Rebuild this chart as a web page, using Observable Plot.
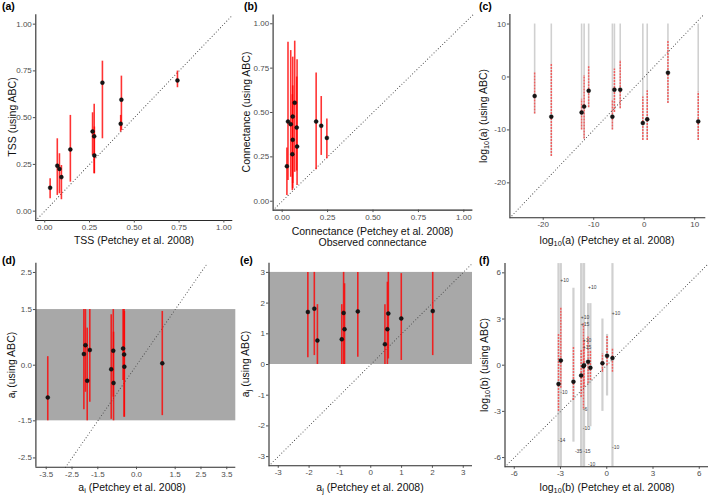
<!DOCTYPE html>
<html><head><meta charset="utf-8">
<script src="https://cdn.jsdelivr.net/npm/d3@7"></script>
<script src="https://cdn.jsdelivr.net/npm/@observablehq/plot@0.6"></script>
<style>
body{margin:0;background:#fff;}
#fig{position:relative;width:709px;height:496px;font-family:"Liberation Sans",Arial,sans-serif;overflow:hidden;background:#fff;}
.panel{position:absolute;}
.panel svg{overflow:visible;}
.lab{position:absolute;font-weight:bold;font-size:10.5px;color:#000;}
.xt{position:absolute;font-size:10.5px;color:#111;transform:translate(-50%,-50%);white-space:nowrap;text-align:center;line-height:1.05;}
.yt{position:absolute;font-size:10.5px;color:#111;transform:translate(-50%,-50%) rotate(-90deg);white-space:nowrap;}
sub{font-size:70%;vertical-align:-0.25em;line-height:0;}
</style></head>
<body><div id="fig"></div>
<script>
// ---------- data ----------
// (a) TSS
const tssObs = [0.03,0.07,0.082,0.093,0.143,0.267,0.276,0.277,0.322,0.424,0.428,0.741];
const tssAbc = [0.125,0.243,0.226,0.182,0.33,0.426,0.4,0.298,0.687,0.467,0.596,0.699];
const tssLo  = [0.066,0.084,0.093,0.061,0.155,0.298,0.2,0.2,0.387,0.423,0.432,0.66];
const tssHi  = [0.173,0.387,0.307,0.244,0.512,0.526,0.571,0.45,0.802,0.512,0.722,0.749];
// (b) connectance
const conObs = [0.026,0.032,0.047,0.058,0.058,0.056,0.069,0.08,0.082,0.187,0.215,0.246];
const conAbc = [0.197,0.449,0.434,0.477,0.346,0.265,0.555,0.415,0.308,0.449,0.425,0.357];
const conLo  = [0.032,0.117,0.135,0.07,0.10,0.06,0.163,0.17,0.088,0.177,0.258,0.239];
const conHi  = [0.30,0.896,0.849,0.812,0.65,0.60,0.902,0.70,0.797,0.722,0.59,0.464];
// (c) log10(a)
const aObs = [-21.7,-18.4,-12.4,-11.9,-11.0,-6.3,-5.9,-4.75,-0.27,0.6,4.7,10.7];
const aAbc = [-3.6,-7.5,-6.7,-5.6,-2.6,-7.5,-2.4,-2.4,-8.7,-8.0,0.8,-8.4];
const aLo  = [-7.0,-15,-10,-11.7,-5.8,-10,-6.7,-6,-12,-12,-5,-12];
const aHi  = [0.9,2.5,-4.2,0.3,2.1,-4.5,1.5,3.1,-3.8,-2.6,6.9,-2.9];
const aGrayHi = [10,10,10,10,10,10,10,10,10,10,10,10];
// (d) a_i
const aiObs = [-3.44,-2.04,-1.98,-1.91,-1.81,-0.98,-0.90,-0.89,-0.52,-0.48,-0.47,1.0];
const aiAbc = [-0.87,0.30,0.54,-0.42,0.41,-0.11,0.39,-0.48,0.45,0.29,-0.04,0.05];
const aiLo  = [-1.5,-1.2,-0.73,-1.5,-1.0,-1.46,-0.86,-1.5,-0.41,-1.4,-1.4,-1.36];
const aiHi  = [0.23,1.5,1.5,1.0,1.5,1.36,1.5,0.89,1.5,1.5,1.45,1.45];
const aiBand = [-1.5, 1.5];
// (e) a_j
const ajObs = [-2.04,-1.83,-1.73,-0.94,-0.88,-0.85,-0.42,0.46,0.54,0.57,0.99,2.01];
const ajAbc = [1.71,1.82,0.78,0.82,1.68,1.15,1.73,0.66,1.15,1.66,1.5,1.74];
const ajLo  = [0.22,0.29,0,0,0,0,0.24,0,0,0.18,0.13,0.29];
const ajHi  = [3,3,1.95,1.95,3,2.63,3,1.95,2.68,3,2.96,3];
const ajBand = [0, 3];
// (f) log10(b)
const bObs = [-3.13,-2.98,-2.16,-1.66,-1.51,-1.47,-1.21,-1.06,-0.28,0.02,0.37];
const bAbc = [-1.22,0.3,-1.07,-0.67,-0.07,0.0,0.22,-0.17,0.13,0.61,0.46];
const bLo  = [-3.0,-1.5,-2.3,-2.1,-2.85,-1.43,-1.2,-1.0,-0.46,-0.02,-0.46];
const bHi  = [2.0,3.7,1.17,0.96,2.7,1.6,1.83,0.96,0.74,1.93,1.07];
const bGrayLo = [-6.6,-6.6,-5,-6.6,-6.6,-6.6,-4,-4,-3,-2,-6.6];
const bGrayHi = [6.6,6.6,5,6.6,6.6,6.6,4,4,3,2,6.6];
const bNoteX = [-2.95,-1.15,-1.62,-1.62,-1.49,-1.49,0.39,-2.95,-1.49,-1.49,-3.09,-2.0,-1.45,-1.15,0.41];
const bNoteY = [5.5,5.07,3.1,2.65,1.62,1.15,3.38,-1.77,-2.85,-4.13,-4.89,-5.58,-5.58,-6.45,-5.36];
const bNoteText = ["+10","+10","+10","+15","+10","+15","+10","-10","-6","-10","-14","-35","-15","-10","-10"];

// tick values
const ticksUnit = [0,0.25,0.5,0.75,1];
const ticksC = [-20,-10,0,10];
const ticksDx = [-3.5,-2.5,-1.5,0,1.5,2.5,3.5];
const ticksDy = [-2.5,-1.5,0,1.5,2.5];
const ticksE = [-3,-2,-1,0,1,2,3];
const ticksF = [-6,-3,0,3,6];

// ---------- helpers ----------
const rows = (x, y, lo, hi) => x.map((d, i) => ({x: d, y: y[i], lo: lo[i], hi: hi[i]}));
const hy = s => String(s).replace("\u2212", "-");

const fig = document.getElementById("fig");

function panel(o) {
  const [xd0, xd1] = o.xDomain, [yd0, yd1] = o.yDomain;
  const dmin = Math.max(xd0, yd0), dmax = Math.min(xd1, yd1);
  const chart = Plot.plot({
    width: o.W, height: o.H,
    marginLeft: o.fx[0] - o.L, marginRight: o.L + o.W - o.fx[1],
    marginTop: o.fy[0] - o.T, marginBottom: o.T + o.H - o.fy[1],
    x: {domain: o.xDomain}, y: {domain: o.yDomain},
    style: {fontFamily: "Liberation Sans, Arial, sans-serif", fontSize: "8px", background: "transparent", overflow: "visible"},
    marks: [
      ...(o.before || []),
      Plot.line([[dmin, dmin], [dmax, dmax]], {stroke: "#505050", strokeWidth: 1.1, strokeDasharray: "0,3", strokeLinecap: "round"}),
      ...o.marks,
      Plot.ruleX([xd0], {stroke: "#2a2a2a", strokeWidth: 1.1}),
      Plot.ruleY([yd0], {stroke: "#2a2a2a", strokeWidth: 1.1}),
      Plot.axisX({ticks: o.xTicks, tickFormat: o.fmt, tickSize: 2.5, tickPadding: 1.5, color: "#4d4d4d", label: null, fontSize: 8}),
      Plot.axisY({ticks: o.yTicks, tickFormat: o.fmt, tickSize: 2.5, tickPadding: 1.5, color: "#4d4d4d", label: null, fontSize: 8})
    ]
  });
  const div = document.createElement("div");
  div.className = "panel";
  div.style.left = o.L + "px"; div.style.top = o.T + "px";
  div.appendChild(chart);
  fig.appendChild(div);
  const add = (cls, html, x, y) => {
    const e = document.createElement("div");
    e.className = cls; e.innerHTML = html;
    e.style.left = x + "px"; e.style.top = y + "px";
    fig.appendChild(e);
  };
  add("lab", o.tag, o.tagPos[0], o.tagPos[1]);
  add("xt", o.xTitle, o.xPos[0], o.xPos[1]);
  add("yt", o.yTitle, o.yPos[0], o.yPos[1]);
}

const fmt2 = d => hy(d3.format(".2f")(d));
const fmt1 = d => hy(d.toFixed(1));
const fmt0 = d => hy(String(d));

const redSolid = data => Plot.ruleX(data, {x: "x", y1: "lo", y2: "hi", stroke: "#ff0000", strokeOpacity: 0.8, strokeWidth: 1.6});
const redDash = data => Plot.ruleX(data, {x: "x", y1: "lo", y2: "hi", stroke: "#ff2020", strokeOpacity: 0.65, strokeWidth: 1.5, strokeDasharray: "2,1"});
const dots = data => Plot.dot(data, {x: "x", y: "y", r: 2, fill: "#161616", stroke: "#000", strokeWidth: 0.4});

// (a)
const dA = rows(tssObs, tssAbc, tssLo, tssHi);
panel({L: 0, T: 0, W: 236, H: 234, fx: [35.3, 232.3], fy: [14.3, 220],
  xDomain: [-0.05, 1.05], yDomain: [-0.05, 1.05], xTicks: ticksUnit, yTicks: ticksUnit, fmt: fmt2,
  marks: [redSolid(dA), dots(dA)],
  tag: "(a)", tagPos: [2, 0], xTitle: "TSS (Petchey et al. 2008)", xPos: [134, 241],
  yTitle: "TSS (using ABC)", yPos: [12, 117]});

// (b)
const dB = rows(conObs, conAbc, conLo, conHi);
panel({L: 236, T: 0, W: 237, H: 222, fx: [272.6, 472.4], fy: [14.4, 209.6],
  xDomain: [-0.05, 1.05], yDomain: [-0.05, 1.05], xTicks: ticksUnit, yTicks: ticksUnit, fmt: fmt2,
  marks: [redSolid(dB), dots(dB)],
  tag: "(b)", tagPos: [244, 0], xTitle: "Connectance (Petchey et al. 2008)<br>Observed connectance", xPos: [372.5, 236.5],
  yTitle: "Connectance (using ABC)", yPos: [246, 112]});

// (c)
const dC = rows(aObs, aAbc, aLo, aHi);
const gC = aObs.map((x, i) => ({x, lo: aLo[i], hi: aGrayHi[i]}));
panel({L: 473, T: 0, W: 236, H: 230, fx: [509.4, 705.3], fy: [14, 217.3],
  xDomain: [-26.6, 12.2], yDomain: [-26.6, 11.8], xTicks: ticksC, yTicks: ticksC, fmt: fmt0,
  before: [Plot.ruleX(gC, {x: "x", y1: "lo", y2: "hi", stroke: "#d0d0d0", strokeWidth: 1.6})],
  marks: [redDash(dC), dots(dC)],
  tag: "(c)", tagPos: [479, 0], xTitle: "log<sub>10</sub>(a) (Petchey et al. 2008)", xPos: [607, 241],
  yTitle: "log<sub>10</sub>(a) (using ABC)", yPos: [483, 116]});

// (d)
const dD = rows(aiObs, aiAbc, aiLo, aiHi);
panel({L: 0, T: 250, W: 236, H: 228, fx: [35.4, 235.3], fy: [262.7, 466.7],
  xDomain: [-3.9, 3.85], yDomain: [-2.75, 2.75], xTicks: ticksDx, yTicks: ticksDy, fmt: fmt1,
  before: [Plot.rect([{x1: -3.9, x2: 3.85, y1: aiBand[0], y2: aiBand[1]}], {x1: "x1", x2: "x2", y1: "y1", y2: "y2", fill: "#a8a8a8"})],
  marks: [redSolid(dD), dots(dD)],
  tag: "(d)", tagPos: [2, 254], xTitle: "a<sub>i</sub> (Petchey et al. 2008)", xPos: [132, 488],
  yTitle: "a<sub>i</sub> (using ABC)", yPos: [11, 365]});

// (e)
const dE = rows(ajObs, ajAbc, ajLo, ajHi);
panel({L: 236, T: 250, W: 237, H: 228, fx: [268.5, 472], fy: [262.7, 465.3],
  xDomain: [-3.3, 3.3], yDomain: [-3.3, 3.3], xTicks: ticksE, yTicks: ticksE, fmt: fmt0,
  before: [Plot.rect([{x1: -3.3, x2: 3.3, y1: ajBand[0], y2: ajBand[1]}], {x1: "x1", x2: "x2", y1: "y1", y2: "y2", fill: "#a8a8a8"})],
  marks: [redSolid(dE), dots(dE)],
  tag: "(e)", tagPos: [240, 254], xTitle: "a<sub>j</sub> (Petchey et al. 2008)", xPos: [370, 488],
  yTitle: "a<sub>j</sub> (using ABC)", yPos: [245, 364]});

// (f)
const dF = rows(bObs, bAbc, bLo, bHi);
const gF = bObs.map((x, i) => ({x, lo: bGrayLo[i], hi: bGrayHi[i]}));
const nF = bNoteX.map((x, i) => ({x, y: bNoteY[i], t: bNoteText[i]}));
panel({L: 473, T: 250, W: 236, H: 228, fx: [504.5, 708], fy: [263.1, 466.3],
  xDomain: [-6.6, 6.6], yDomain: [-6.6, 6.6], xTicks: ticksF, yTicks: ticksF, fmt: fmt0,
  before: [Plot.ruleX(gF, {x: "x", y1: "lo", y2: "hi", stroke: "#d0d0d0", strokeWidth: 2.2})],
  marks: [redDash(dF), dots(dF), Plot.text(nF, {x: "x", y: "y", text: "t", fontSize: 5, fill: "#444", textAnchor: "start", dx: -1})],
  tag: "(f)", tagPos: [479, 254], xTitle: "log<sub>10</sub>(b) (Petchey et al. 2008)", xPos: [607, 488],
  yTitle: "log<sub>10</sub>(b) (using ABC)", yPos: [484, 365]});
</script>
</body></html>
